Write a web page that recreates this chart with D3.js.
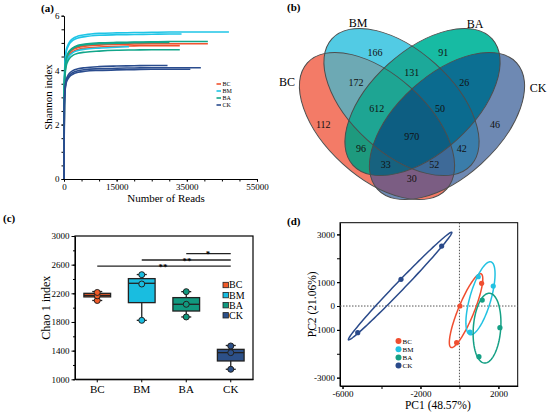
<!DOCTYPE html>
<html><head><meta charset="utf-8">
<script src="https://cdn.jsdelivr.net/npm/d3@7"></script>
<style>body{margin:0;background:#fff}svg{display:block}</style>
</head><body>
<svg id="fig" width="550" height="412"></svg>
<script>
// ---------------- DATA ----------------
const groups = ["BC", "BM", "BA", "CK"];

// (a) rarefaction curves: sampling depth grid and Shannon values per sample
const rareReads = [0, 100, 300, 600, 1000, 1500, 2500, 4000, 6000, 10000, 15000, 20000, 25000, 30000, 35000, 40000, 45000];
const rareEnds = [41000, 33000, 30000, 47000, 33500, 18500, 41000, 33000, 30000, 29500, 39000, 36000];
const rareGroup = ["BC", "BC", "BC", "BM", "BM", "BM", "BA", "BA", "BA", "CK", "CK", "CK"];
const bc1 = [0, 3.28, 3.98, 4.32, 4.50, 4.62, 4.75, 4.83, 4.88, 4.92, 4.95, 4.96, 4.97, 4.97, 4.97, 4.97, 4.97];
const bc2 = [0, 3.23, 3.92, 4.26, 4.43, 4.56, 4.68, 4.76, 4.81, 4.85, 4.88, 4.89, 4.90, 4.90, 4.90];
const bc3 = [0, 3.31, 4.01, 4.36, 4.53, 4.66, 4.78, 4.87, 4.92, 4.96, 4.98, 5.00, 5.01, 5.01];
const bm1 = [0, 3.56, 4.32, 4.70, 4.89, 5.02, 5.16, 5.25, 5.30, 5.35, 5.37, 5.38, 5.39, 5.40, 5.40, 5.40, 5.40, 5.40];
const bm2 = [0, 3.52, 4.26, 4.64, 4.82, 4.96, 5.09, 5.18, 5.23, 5.28, 5.30, 5.31, 5.32, 5.33, 5.33];
const bm3 = [0, 3.21, 3.89, 4.23, 4.40, 4.52, 4.64, 4.72, 4.77, 4.81, 4.84, 4.86];
const ba1 = [0, 3.33, 4.04, 4.39, 4.57, 4.70, 4.82, 4.91, 4.96, 5.00, 5.02, 5.03, 5.04, 5.05, 5.05, 5.05, 5.05];
const ba2 = [0, 3.14, 3.80, 4.13, 4.30, 4.42, 4.54, 4.62, 4.66, 4.70, 4.73, 4.74, 4.75, 4.75, 4.75];
const ba3 = [0, 3.31, 4.02, 4.37, 4.54, 4.67, 4.79, 4.88, 4.93, 4.97, 4.99, 5.01, 5.02, 5.02];
const ck1 = [0, 2.75, 3.34, 3.63, 3.77, 3.88, 3.98, 4.05, 4.09, 4.13, 4.15, 4.16, 4.17, 4.17];
const ck2 = [0, 2.70, 3.27, 3.56, 3.70, 3.80, 3.91, 3.98, 4.02, 4.05, 4.07, 4.08, 4.09, 4.09, 4.09, 4.09];
const ck3 = [0, 2.66, 3.22, 3.51, 3.65, 3.75, 3.85, 3.92, 3.96, 3.99, 4.01, 4.02, 4.03, 4.03, 4.03, 4.03];
const rareValues = [bc1, bc2, bc3, bm1, bm2, bm3, ba1, ba2, ba3, ck1, ck2, ck3];
const rareXTicks = [0, 15000, 35000, 55000];
const rareYTicks = [0, 2, 4, 6];

// (b) Venn region counts (key = sets in region)
const vennRegions = ["BC", "BM", "BA", "CK", "BC&BM", "BM&BA", "BA&CK", "BC&CK", "BC&BA", "BM&CK",
  "BC&BM&BA", "BM&BA&CK", "BC&BA&CK", "BC&BM&CK", "BC&BM&BA&CK"];
const vennCounts = [112, 166, 91, 46, 172, 131, 26, 30, 96, 42, 612, 50, 33, 52, 970];

// (c) Chao1 boxplot
const chaoMin = [2100, 1823, 1870, 1140];
const chaoQ1 = [2150, 2070, 1953, 1256];
const chaoMed = [2170, 2340, 2047, 1372];
const chaoQ3 = [2200, 2405, 2140, 1418];
const chaoMax = [2225, 2462, 2223, 1472];
const chaoPoints = [[2100, 2165, 2212], [1823, 2330, 2460], [1870, 2047, 2223], [1140, 1372, 1465]];
const chaoTicks = [1000, 1400, 1800, 2200, 2600, 3000];
const sigFrom = ["BC", "BM", "BA"];
const sigTo = ["CK", "CK", "CK"];
const sigLevel = [2580, 2665, 2755];
const sigMark = ["**", "**", "*"];

// (d) PCA scores
const pc1 = [[-144, 26, 1138], [965, 1735, 538], [1170, 2077, 1000], [-5220, -3000, -913]];
const pc2 = [[-1535, 0, 950], [1226, 837, -1088], [251, -908, -2121], [-1117, 1117, 2510]];
const pcXTicks = [-6000, -2000, 2000];
const pcYTicks = [3000, 1000, 0, -1000, -3000];

// ---------------- STYLE ----------------
const FONT = '"Liberation Serif","Times New Roman",serif';
const fmt = d => String(d);
const colA = {BC: "#F0532F", BM: "#1FC5E6", BA: "#12A68A", CK: "#2A4C8E"};
const colC = {BC: "#F05A28", BM: "#19BDE0", BA: "#11997F", CK: "#2C5089"};
const colD = {BC: "#F04E30", BM: "#22C2E2", BA: "#15A085", CK: "#2A4A8A"};
const vennFill = {
  "BC": "#F37B67", "BM": "#52CBE4", "BA": "#17BBA3", "CK": "#6E89B3",
  "BC&BM": "#6DA9B4", "BM&BA": "#1CA99A", "BA&CK": "#0C6F92", "BC&CK": "#7B5D83",
  "BC&BA": "#1E9A7E", "BM&CK": "#3A7DAA", "BC&BM&BA": "#1EA593", "BM&BA&CK": "#0B6B8F",
  "BC&BA&CK": "#17627F", "BC&BM&CK": "#3E6A98", "BC&BM&BA&CK": "#0D5E82"
};

const svg = d3.select("#fig").attr("font-family", FONT);

function styleAxis(g, fs) {
  g.attr("font-family", FONT).attr("font-size", fs);
  g.selectAll(".tick text").attr("fill", "#000");
  g.selectAll(".tick line").attr("stroke", "#000");
  g.select(".domain").attr("stroke", "#000");
}
function title(x, y, t) {
  svg.append("text").attr("x", x).attr("y", y).attr("font-size", 11).attr("font-weight", "bold").text(t);
}

// ---------------- (a) ----------------
(function () {
  const x = d3.scaleLinear().domain([0, 55000]).range([64, 257]);
  const y = d3.scaleLinear().domain([0, 6]).range([179, 15.7]);
  const g = svg.append("g");
  g.append("g").attr("transform", "translate(0,179)")
    .call(d3.axisBottom(x).tickValues(d3.range(0, 55001, 5000)).tickSize(2.5).tickFormat(""))
    .call(a => { a.select(".domain").remove(); a.selectAll("line").attr("stroke", "#000"); });
  g.append("g").attr("transform", "translate(64,0)")
    .call(d3.axisLeft(y).tickValues(d3.range(0, 6.01, 0.5)).tickSize(2.5).tickFormat(""))
    .call(a => { a.select(".domain").remove(); a.selectAll("line").attr("stroke", "#000"); });
  g.append("g").attr("transform", "translate(0,179)")
    .call(d3.axisBottom(x).tickValues(rareXTicks).tickFormat(fmt).tickSize(2.5).tickPadding(2).tickSizeOuter(0))
    .call(a => styleAxis(a, 9));
  g.append("g").attr("transform", "translate(64,0)")
    .call(d3.axisLeft(y).tickValues(rareYTicks).tickFormat(fmt).tickSize(2.5).tickPadding(2).tickSizeOuter(0))
    .call(a => styleAxis(a, 9));
  const line = d3.line().x(d => x(d[0])).y(d => y(d[1])).curve(d3.curveMonotoneX);
  rareValues.forEach((vals, i) => {
    const end = rareEnds[i];
    const pts = rareReads.filter(r => r < end).map((r, k) => [r, vals[k]]);
    pts.push([end, vals[vals.length - 1]]);
    g.append("path").attr("d", line(pts)).attr("fill", "none")
      .attr("stroke", colA[rareGroup[i]]).attr("stroke-width", 1.6);
  });
  groups.forEach((gr, i) => {
    const ly = 84 + i * 7;
    g.append("line").attr("x1", 216.5).attr("x2", 221).attr("y1", ly).attr("y2", ly)
      .attr("stroke", colA[gr]).attr("stroke-width", 1.6);
    g.append("text").attr("x", 222.5).attr("y", ly + 2.1).attr("font-size", 6).text(gr);
  });
  g.append("text").attr("x", 166).attr("y", 202).attr("text-anchor", "middle")
    .attr("font-size", 11).text("Number of Reads");
  g.append("text").attr("transform", "translate(52,97) rotate(-90)").attr("text-anchor", "middle")
    .attr("font-size", 11).text("Shannon index");
  title(41, 12, "(a)");
})();

// ---------------- (b) Venn ----------------
(function () {
  const ell = {
    BC: {cx: 377, cy: 126, rx: 94, ry: 51, rot: 42.2},
    BM: {cx: 401.5, cy: 102, rx: 94, ry: 51, rot: 42.2},
    BA: {cx: 422.5, cy: 102, rx: 94, ry: 51, rot: -42.2},
    CK: {cx: 447, cy: 126, rx: 94, ry: 51, rot: -42.2}
  };
  const labelPos = {
    "BC": [323.3, 124], "BM": [375, 52.7], "BA": [443.3, 52.7], "CK": [495, 124],
    "BC&BM": [356, 82.7], "BM&BA": [411.7, 72.7], "BA&CK": [464.3, 82.7], "BC&CK": [411.7, 178.3],
    "BC&BA": [361, 148.3], "BM&CK": [461.7, 148.3], "BC&BM&BA": [376.7, 108.3], "BM&BA&CK": [440, 108.3],
    "BC&BA&CK": [385.7, 164], "BC&BM&CK": [434.3, 164], "BC&BM&BA&CK": [411.7, 136]
  };
  const setLabelPos = {BC: [287, 82], BM: [358, 23], BA: [475, 24], CK: [538, 88]};
  const defs = svg.append("defs");
  function addEllipse(sel, e) {
    return sel.append("ellipse").attr("cx", e.cx).attr("cy", e.cy).attr("rx", e.rx).attr("ry", e.ry)
      .attr("transform", `rotate(${e.rot},${e.cx},${e.cy})`);
  }
  groups.forEach(s => addEllipse(defs.append("clipPath").attr("id", "clip-" + s), ell[s]));
  const g = svg.append("g");
  const order = vennRegions.map((r, i) => ({key: r, n: vennCounts[i], sets: r.split("&")}))
    .sort((a, b) => a.sets.length - b.sets.length);
  order.forEach(r => {
    let holder = g;
    r.sets.slice(1).forEach(s => { holder = holder.append("g").attr("clip-path", `url(#clip-${s})`); });
    addEllipse(holder, ell[r.sets[0]]).attr("fill", vennFill[r.key]);
  });
  groups.forEach(s => addEllipse(g, ell[s]).attr("fill", "none").attr("stroke", "#4d4d4d").attr("stroke-width", 1));
  order.forEach(r => {
    const p = labelPos[r.key];
    g.append("text").attr("x", p[0]).attr("y", p[1]).attr("dy", "0.35em").attr("text-anchor", "middle")
      .attr("font-size", 10).attr("fill", "#111").text(r.n);
  });
  groups.forEach(s => {
    const p = setLabelPos[s];
    g.append("text").attr("x", p[0]).attr("y", p[1]).attr("dy", "0.35em").attr("text-anchor", "middle")
      .attr("font-size", 12).text(s);
  });
  title(287, 11, "(b)");
})();

// ---------------- (c) boxplot ----------------
(function () {
  const L = 75, R = 253, T = 236, B = 379.3;
  const x = d3.scaleBand().domain(groups).range([L, R]).paddingInner(0.4).paddingOuter(0.2);
  const y = d3.scaleLinear().domain([1000, 3000]).range([B, T]);
  const g = svg.append("g");
  g.append("g").attr("transform", `translate(${L},0)`)
    .call(d3.axisLeft(y).tickValues(d3.range(1000, 3001, 200)).tickSize(2).tickFormat(""))
    .call(a => { a.select(".domain").remove(); a.selectAll("line").attr("stroke", "#000"); });
  g.append("g").attr("transform", `translate(${L},0)`)
    .call(d3.axisLeft(y).tickValues(chaoTicks).tickFormat(fmt).tickSize(3.5).tickPadding(2).tickSizeOuter(0))
    .call(a => styleAxis(a, 9));
  g.append("g").attr("transform", `translate(0,${B})`)
    .call(d3.axisBottom(x).tickSize(3).tickPadding(3).tickSizeOuter(0))
    .call(a => styleAxis(a, 11));
  g.append("rect").attr("x", L).attr("y", T).attr("width", R - L).attr("height", B - T)
    .attr("fill", "none").attr("stroke", "#000").attr("stroke-width", 1.2);
  const bw = x.bandwidth();
  groups.forEach((gr, i) => {
    const cx = x(gr) + bw / 2;
    const gg = g.append("g");
    gg.append("line").attr("x1", cx).attr("x2", cx).attr("y1", y(chaoMin[i])).attr("y2", y(chaoMax[i]))
      .attr("stroke", "#222").attr("stroke-width", 1.3);
    [chaoMin[i], chaoMax[i]].forEach(v => gg.append("line").attr("x1", cx - 5).attr("x2", cx + 5)
      .attr("y1", y(v)).attr("y2", y(v)).attr("stroke", "#222").attr("stroke-width", 1.3));
    gg.append("rect").attr("x", x(gr)).attr("width", bw).attr("y", y(chaoQ3[i]))
      .attr("height", y(chaoQ1[i]) - y(chaoQ3[i])).attr("fill", colC[gr]).attr("stroke", "#222").attr("stroke-width", 1.3);
    gg.append("line").attr("x1", x(gr)).attr("x2", x(gr) + bw).attr("y1", y(chaoMed[i])).attr("y2", y(chaoMed[i]))
      .attr("stroke", "#222").attr("stroke-width", 1.3);
    chaoPoints[i].forEach(v => gg.append("circle").attr("cx", cx).attr("cy", y(v)).attr("r", 3)
      .attr("fill", colC[gr]).attr("stroke", "#222").attr("stroke-width", 1));
  });
  sigFrom.forEach((f, i) => {
    const x1 = x(f) + bw / 2, x2 = x(sigTo[i]) + bw / 2, yy = y(sigLevel[i]);
    g.append("line").attr("x1", x1).attr("x2", x2).attr("y1", yy).attr("y2", yy)
      .attr("stroke", "#222").attr("stroke-width", 1.3);
  });
  const starX = [163, 187, 208];
  sigMark.forEach((m, i) => {
    g.append("text").attr("x", starX[i]).attr("y", y(sigLevel[i]) + 3.5).attr("text-anchor", "middle")
      .attr("font-size", 9).attr("font-weight", "bold").text(m);
  });
  groups.forEach((gr, i) => {
    const ly = 285 + i * 10.1;
    g.append("rect").attr("x", 223).attr("y", ly - 2.7).attr("width", 5.4).attr("height", 5.4)
      .attr("fill", colC[gr]).attr("stroke", "#222").attr("stroke-width", 0.8);
    g.append("text").attr("x", 229).attr("y", ly + 3.4).attr("font-size", 10).text(gr);
  });
  g.append("text").attr("transform", `translate(49.5,${(T + B) / 2}) rotate(-90)`).attr("text-anchor", "middle")
    .attr("font-size", 12).text("Chao 1 index");
  title(3, 222, "(c)");
})();

// ---------------- (d) PCA ----------------
(function () {
  const L = 340, R = 517.7, T = 222.7, B = 386;
  const x = d3.scaleLinear().domain([-6130, 2990]).range([L, R]);
  const y = d3.scaleLinear().domain([-3350, 3490]).range([B, T]);
  const g = svg.append("g");
  g.append("g").attr("transform", `translate(0,${B})`)
    .call(d3.axisBottom(x).tickValues(d3.range(-6000, 2001, 2000)).tickSize(3).tickFormat(""))
    .call(a => { a.select(".domain").remove(); a.selectAll("line").attr("stroke", "#000"); });
  g.append("g").attr("transform", `translate(${L},0)`)
    .call(d3.axisLeft(y).tickValues(d3.range(-3000, 3001, 1000)).tickSize(3).tickFormat(""))
    .call(a => { a.select(".domain").remove(); a.selectAll("line").attr("stroke", "#000"); });
  g.append("g").attr("transform", `translate(0,${B})`)
    .call(d3.axisBottom(x).tickValues(pcXTicks).tickFormat(fmt).tickSize(3).tickPadding(1.5).tickSizeOuter(0))
    .call(a => styleAxis(a, 9));
  g.append("g").attr("transform", `translate(${L},0)`)
    .call(d3.axisLeft(y).tickValues(pcYTicks).tickFormat(fmt).tickSize(3).tickPadding(2).tickSizeOuter(0))
    .call(a => styleAxis(a, 9));
  g.append("rect").attr("x", L).attr("y", T).attr("width", R - L).attr("height", B - T)
    .attr("fill", "none").attr("stroke", "#000").attr("stroke-width", 1);
  g.append("line").attr("x1", L).attr("x2", R).attr("y1", y(0)).attr("y2", y(0))
    .attr("stroke", "#555").attr("stroke-width", 1).attr("stroke-dasharray", "1.5,1.5");
  g.append("line").attr("x1", x(0)).attr("x2", x(0)).attr("y1", T).attr("y2", B)
    .attr("stroke", "#555").attr("stroke-width", 1).attr("stroke-dasharray", "1.5,1.5");
  const K = 1.51;
  const line = d3.line().x(d => x(d[0])).y(d => y(d[1])).curve(d3.curveLinearClosed);
  groups.forEach((gr, i) => {
    const xs = pc1[i], ys = pc2[i], n = xs.length;
    const mx = d3.mean(xs), my = d3.mean(ys);
    let sxx = 0, syy = 0, sxy = 0;
    for (let k = 0; k < n; k++) {
      sxx += (xs[k] - mx) ** 2; syy += (ys[k] - my) ** 2; sxy += (xs[k] - mx) * (ys[k] - my);
    }
    sxx /= n; syy /= n; sxy /= n;
    const tr = (sxx + syy) / 2, disc = Math.sqrt(((sxx - syy) / 2) ** 2 + sxy ** 2);
    const l1 = tr + disc, l2 = Math.max(tr - disc, 0);
    const ang = Math.atan2(l1 - sxx, sxy);
    const c = Math.cos(ang), s = Math.sin(ang);
    const pts = d3.range(0, 2 * Math.PI, Math.PI / 60).map(t => {
      const u = K * Math.sqrt(l1) * Math.cos(t), v = K * Math.sqrt(l2) * Math.sin(t);
      return [mx + u * c - v * s, my + u * s + v * c];
    });
    g.append("path").attr("d", line(pts)).attr("fill", "none").attr("stroke", colD[gr]).attr("stroke-width", 1.5);
  });
  groups.forEach((gr, i) => {
    pc1[i].forEach((v, k) => g.append("circle").attr("cx", x(v)).attr("cy", y(pc2[i][k])).attr("r", 2.6)
      .attr("fill", colD[gr]));
  });
  groups.forEach((gr, i) => {
    const ly = 341 + i * 8.2;
    g.append("circle").attr("cx", 398.5).attr("cy", ly).attr("r", 3).attr("fill", colD[gr]);
    g.append("text").attr("x", 402.5).attr("y", ly + 2.6).attr("font-size", 7).text(gr);
  });
  g.append("text").attr("x", (L + R) / 2 + 9).attr("y", 409).attr("text-anchor", "middle")
    .attr("font-size", 11.5).text("PC1 (48.57%)");
  g.append("text").attr("transform", `translate(315.5,${(T + B) / 2}) rotate(-90)`).attr("text-anchor", "middle")
    .attr("font-size", 11.5).text("PC2 (21.06%)");
  title(287, 225, "(d)");
})();
</script>
</body></html>
